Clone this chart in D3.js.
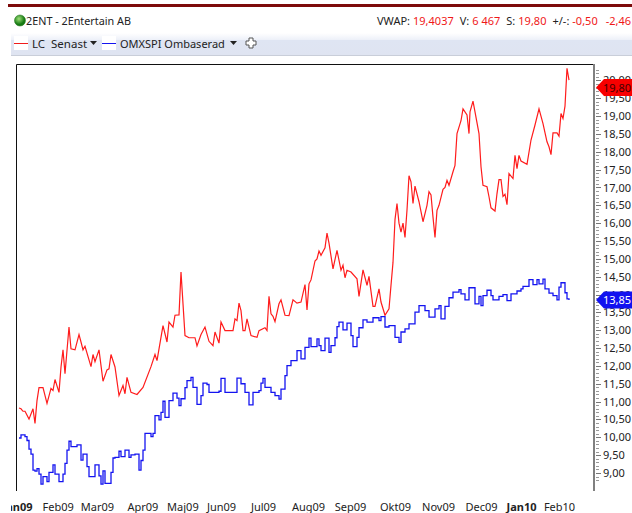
<!DOCTYPE html>
<html>
<head>
<meta charset="utf-8">
<script src="https://cdn.jsdelivr.net/npm/d3@7"></script>
<style>
  html, body { margin: 0; padding: 0; background: #fff; }
  svg { display: block; }
  text { font-family: "Noto Sans", "DejaVu Sans", sans-serif; fill: #222; }
  .tick line { shape-rendering: crispEdges; }
</style>
</head>
<body>
<div id="chart"></div>
<script>
// data
var redDays = [0,1,2,3,5,7,8,9,10,12,14,16,17,18,20,21,22,23,25,26,28,30,31,32,33,36,37,38,40,42,44,45,46,48,50,52,53,54,56,59,62,66,68,69,72,74,75,77,78,80,81,83,85,88,89,91,93,95,97,98,100,101,103,107,108,109,110,111,112,113,114,116,119,120,123,124,125,126,127,128,130,131,133,135,137,139,141,143,144,145,146,148,149,150,151,153,154,155,157,159,161,162,163,164,166,169,170,172,174,175,177,178,180,181,183,185,186,187,188,189,190,191,192,193,194,195,196,197,198,200,202,204,205,206,207,208,209,210,212,213,214,215,217,218,219,221,222,224,225,225.5,227,228,230,231,232,234,235,236,238,239,240,241,242,243,244,245,247,248,249,250,251,254,256,258,260,262,264,265,266,267,269,270,271,272,273,274,275];
var redValues = [10.82,10.80,10.73,10.73,10.51,10.80,10.39,11.03,11.39,11.39,10.95,11.37,11.31,11.62,11.26,11.97,12.45,11.78,13.09,12.48,12.45,12.88,12.67,12.45,12.55,11.98,12.32,12.12,12.45,11.57,11.89,11.92,12.32,11.97,11.17,11.45,11.22,11.68,11.26,11.20,11.40,11.98,12.32,12.15,13.13,12.67,13.23,13.09,13.42,13.43,14.63,12.85,12.79,12.79,12.56,12.88,13.09,12.69,12.57,12.95,12.64,13.23,12.99,12.99,13.32,13.27,13.76,13.55,12.99,12.99,13.32,12.85,12.80,12.99,13.07,12.99,13.95,13.46,13.39,13.24,13.74,13.85,13.42,13.41,13.85,13.76,13.79,14.28,13.57,14.30,14.41,14.94,15.00,15.22,15.10,15.31,15.72,15.44,14.72,15.24,14.68,14.82,14.47,14.68,14.63,14.44,13.95,14.69,14.26,14.51,13.67,13.67,14.16,13.79,13.42,13.60,14.26,14.90,16.10,16.55,16.00,15.75,16.00,15.60,16.37,17.33,17.16,16.55,17.04,16.60,16.04,16.50,16.88,16.79,16.17,15.60,16.36,16.50,16.95,17.00,17.20,17.06,17.44,17.62,18.51,18.87,19.20,19.03,18.51,19.12,19.42,19.12,18.51,17.58,17.06,17.02,16.74,16.43,16.34,16.83,17.22,17.22,16.75,16.81,16.52,17.39,17.25,17.90,17.53,17.90,17.74,17.65,18.33,18.75,19.20,18.79,18.28,18.14,17.92,18.53,18.53,18.44,19.07,18.93,19.28,20.34,20.01,19.80];

var blueDays = [0,1,3,4,5,6,7,8,9,10,11,12,14,15,17,18,20,22,23,24,25,26,29,31,32,34,35,38,40,41,42,43,46,47,48,50,51,53,55,56,58,60,61,62,63,66,67,68,70,71,72,73,75,77,79,80,81,83,84,86,87,89,91,92,94,95,97,100,101,103,109,111,113,115,117,120,121,122,123,126,128,130,131,133,134,136,139,141,143,145,146,149,150,151,153,155,156,158,159,160,162,164,166,167,169,170,172,174,177,180,181,183,185,188,190,191,193,195,198,200,203,205,208,210,211,213,215,217,220,221,223,225,228,230,231,232,234,236,237,240,242,244,246,249,251,252,255,257,259,260,262,263,265,267,269,270,271,273,274,275];
var blueValues = [9.98,10.07,10.02,9.91,9.67,9.53,9.08,9.05,9.12,8.97,8.69,8.90,8.76,9.02,9.23,8.97,8.76,8.97,9.27,9.64,9.89,9.74,9.79,9.36,9.53,9.18,8.90,9.23,8.92,8.69,9.06,8.71,9.02,9.42,9.44,9.61,9.46,9.64,9.44,9.51,9.53,9.08,9.35,9.64,10.11,10.02,10.11,10.61,10.49,10.70,11.01,10.56,11.03,11.24,11.10,10.89,11.08,11.39,11.59,11.68,11.40,10.92,11.17,11.52,11.48,11.26,11.26,11.29,11.65,11.26,11.66,11.50,11.26,10.91,11.26,11.31,11.52,11.65,11.40,11.26,11.17,11.07,11.35,11.73,12.01,12.15,12.43,12.20,12.52,12.78,12.54,12.76,12.57,12.43,12.78,12.38,12.57,12.79,13.10,13.23,13.01,13.20,12.85,12.54,12.80,13.07,13.29,13.23,13.35,13.27,13.38,13.09,13.13,12.80,12.66,12.95,13.04,13.18,13.51,13.69,13.55,13.37,13.60,13.69,13.32,13.67,13.91,14.07,14.14,14.02,13.85,14.19,13.74,13.95,13.69,13.97,14.12,13.97,13.85,13.95,14.00,13.83,14.02,14.10,14.16,14.23,14.42,14.28,14.42,14.30,14.43,14.16,14.04,13.97,13.85,14.21,14.33,14.05,13.88,13.85];

var monthDays = [-1,19.3,39,61.7,81.7,101,122,144.5,165.5,188,209.5,231,251,270];
var monthLabels = ['Jan09','Feb09','Mar09','Apr09','Maj09','Jun09','Jul09','Aug09','Sep09','Okt09','Nov09','Dec09','Jan10','Feb10'];
var boldMonths = ['Jan09','Jan10'];
var priceTicks = [9,9.5,10,10.5,11,11.5,12,12.5,13,13.5,14,14.5,15,15.5,16,16.5,17,17.5,18,18.5,19,19.5,20];
var minorTicks = d3.range(88,204).map(function(d) { return d / 10; });
var statNames = ['VWAP:','V:','S:','+/-:',''];
var statValues = ['19,4037','6 467','19,80','-0,50','-2,46'];

(function() {
  'use strict';

  var w = 632, h = 513;
  var comma = function(d) { return d.toFixed(2).replace('.', ','); };

  var svg = d3.select('#chart').append('svg')
    .attr('width', w)
    .attr('height', h);

  var defs = svg.append('defs');
  var band = defs.append('linearGradient')
    .attr('id', 'band')
    .attr('x1', 0).attr('x2', 0).attr('y1', 0).attr('y2', 1);
  band.append('stop').attr('offset', '0%').attr('stop-color', '#ffffff');
  band.append('stop').attr('offset', '30%').attr('stop-color', '#eef1f9');
  band.append('stop').attr('offset', '34%').attr('stop-color', '#dfe5f3');
  band.append('stop').attr('offset', '100%').attr('stop-color', '#dfe4f1');
  var ball = defs.append('radialGradient').attr('id', 'ball').attr('cx', '40%').attr('cy', '35%');
  ball.append('stop').attr('offset', '0%').attr('stop-color', '#9fe07a');
  ball.append('stop').attr('offset', '100%').attr('stop-color', '#167a12');
  defs.append('clipPath').attr('id', 'monthClip')
    .append('rect').attr('x', 11).attr('y', 490).attr('width', w).attr('height', 23);

  // top of the window
  svg.append('rect').attr('x', 8).attr('y', 4).attr('width', w - 8).attr('height', 3).attr('fill', '#7d0a0a');
  svg.append('circle').attr('cx', 20).attr('cy', 20.5).attr('r', 5.5).attr('fill', 'url(#ball)').attr('stroke', '#2f7d2a').attr('stroke-width', 0.6);
  svg.append('text').attr('x', 26).attr('y', 25).attr('font-size', 10.8).text('2ENT - 2Entertain AB');

  var stats = svg.append('text').attr('x', 377).attr('y', 25).attr('font-size', 11);
  statNames.forEach(function(name, i) {
    if (name) stats.append('tspan').attr('dx', i ? 6 : 0).text(name);
    stats.append('tspan').attr('dx', name ? 3 : 8).style('fill', '#f01818').text(statValues[i]);
  });

  // legend band
  svg.append('rect').attr('x', 11).attr('y', 33).attr('width', w - 11).attr('height', 22).attr('fill', 'url(#band)');
  svg.append('line').attr('x1', 11).attr('x2', w).attr('y1', 55.5).attr('y2', 55.5).attr('stroke', '#c9ced9');

  var legend = svg.append('g');
  legend.append('rect').attr('x', 14).attr('y', 36).attr('width', 14).attr('height', 14).attr('fill', '#fff');
  legend.append('line').attr('x1', 14).attr('x2', 28).attr('y1', 43.5).attr('y2', 43.5).attr('stroke', '#f01c1c');
  legend.append('text').attr('x', 32).attr('y', 48).attr('font-size', 11.5).attr('xml:space', 'preserve').text('LC  Senast');
  legend.append('path').attr('d', 'M90,41h7l-3.5,4z').attr('fill', '#222');
  legend.append('rect').attr('x', 102).attr('y', 36).attr('width', 14).attr('height', 14).attr('fill', '#fff');
  legend.append('line').attr('x1', 102).attr('x2', 116).attr('y1', 43.5).attr('y2', 43.5).attr('stroke', '#1414f0');
  legend.append('text').attr('x', 120).attr('y', 48).attr('font-size', 11).text('OMXSPI Ombaserad');
  legend.append('path').attr('d', 'M230,41h7l-3.5,4z').attr('fill', '#222');
  legend.append('path')
    .attr('d', 'M249,38h4v3h3v4h-3v3h-4v-3h-3v-4h3z')
    .attr('fill', '#fff').attr('stroke', '#555');

  // plot
  var x = d3.scaleLinear().domain([0, 275]).range([19, 569]);
  var y = d3.scaleLinear().domain([9, 20]).range([473, 80.4]);

  svg.append('path').attr('d', 'M16.5,491V64.5H594').attr('fill', 'none').attr('stroke', '#111');
  svg.append('line').attr('x1', 594).attr('x2', 594).attr('y1', 64).attr('y2', 491).attr('stroke', '#808080').attr('stroke-width', 2);

  var minorAxis = d3.axisRight(y).tickValues(minorTicks).tickSize(3).tickFormat('');
  var gMinor = svg.append('g').attr('transform', 'translate(596,0)').call(minorAxis);
  gMinor.select('.domain').remove();
  gMinor.selectAll('.tick line').attr('stroke', '#999');

  var yAxis = d3.axisRight(y).tickValues(priceTicks).tickSize(5).tickPadding(2).tickFormat(comma);
  var gY = svg.append('g').attr('transform', 'translate(596,0)').call(yAxis);
  gY.select('.domain').remove();
  gY.selectAll('.tick line').attr('stroke', '#777');
  gY.selectAll('text').attr('font-size', 11).style('fill', '#222').style('font-family', '"Noto Sans", sans-serif');

  var xAxis = d3.axisBottom(x).tickValues(monthDays).tickSize(0).tickPadding(0)
    .tickFormat(function(d, i) { return monthLabels[i]; });
  var gX = svg.append('g').attr('clip-path', 'url(#monthClip)')
    .append('g').attr('transform', 'translate(0,503)').call(xAxis);
  gX.select('.domain').remove();
  gX.selectAll('text')
    .attr('font-size', 11)
    .style('fill', '#222')
    .style('font-family', '"Noto Sans", sans-serif')
    .style('font-weight', function(d, i) { return boldMonths.indexOf(monthLabels[i]) >= 0 ? 'bold' : 'normal'; });

  var redLine = d3.line()
    .x(function(d, i) { return x(redDays[i]); })
    .y(function(d) { return y(d); });
  var blueLine = d3.line()
    .curve(d3.curveStepAfter)
    .x(function(d, i) { return x(blueDays[i]); })
    .y(function(d) { return y(d); });

  svg.append('path').attr('d', redLine(redValues)).attr('fill', 'none').attr('stroke', '#ff1c1c').attr('stroke-width', 1.2);
  svg.append('path').attr('d', blueLine(blueValues)).attr('fill', 'none').attr('stroke', '#1414f0').attr('stroke-width', 1.3);

  // last value tags
  function addTag(value, fill, textColor) {
    var cy = y(value);
    svg.append('path')
      .attr('d', 'M596,' + cy + 'L604,' + (cy - 8.5) + 'H632V' + (cy + 8.5) + 'H604Z')
      .attr('fill', fill);
    svg.append('text')
      .attr('x', 603).attr('y', cy + 4)
      .attr('font-size', 11)
      .style('fill', textColor)
      .text(comma(value));
  }
  addTag(redValues[redValues.length - 1], '#f80000', '#400');
  addTag(blueValues[blueValues.length - 1], '#1212f0', '#fff');
}());
</script>
</body>
</html>
